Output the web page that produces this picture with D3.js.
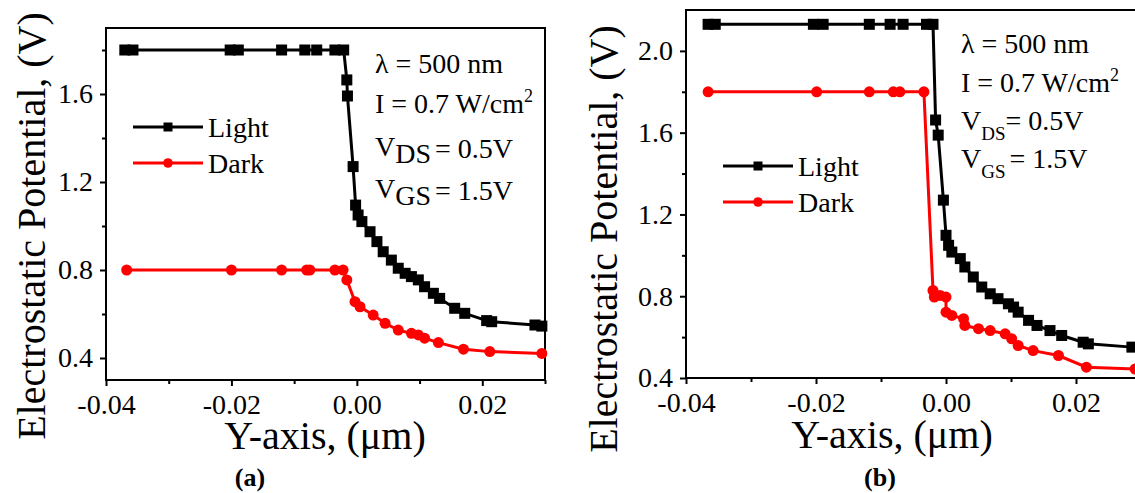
<!DOCTYPE html>
<html lang="en">
<head>
    <meta charset="UTF-8">
    <title>Electrostatic Potential vs Y-axis</title>
    <style>
        body { margin: 0; background: #fff; }
        svg text { font-family: "Liberation Serif", "Times New Roman", serif; fill: #000; }
        .axis path, .axis line { stroke: #000; stroke-width: 2; }
        .axis text { font-size: 28px; }
    </style>
</head>
<body>
    <svg id="chart" width="1135" height="493"></svg>
    <script src="https://d3js.org/d3.v7.min.js"></script>
    <script>
        // data: [Y-axis (um), potential (V)]
        var lightA = [[-0.0370, 1.80], [-0.0357, 1.80], [-0.0202, 1.80], [-0.0189, 1.80], [-0.0120, 1.80],
            [-0.0083, 1.80], [-0.0064, 1.80], [-0.0035, 1.80], [-0.0021, 1.80], [-0.0016, 1.664],
            [-0.0015, 1.591], [-0.0006, 1.270], [-0.0002, 1.095], [0.0002, 1.050], [0.0008, 1.020],
            [0.0021, 0.974], [0.0032, 0.929], [0.0042, 0.883], [0.0055, 0.845], [0.0066, 0.808],
            [0.0077, 0.785], [0.0087, 0.770], [0.0098, 0.755], [0.0108, 0.724], [0.0122, 0.694],
            [0.0132, 0.671], [0.0156, 0.626], [0.0172, 0.603], [0.0207, 0.570], [0.0215, 0.565],
            [0.0284, 0.550], [0.0295, 0.545]];
        var darkA = [[-0.0367, 0.80], [-0.0200, 0.80], [-0.0120, 0.80], [-0.0080, 0.80], [-0.0075, 0.80],
            [-0.0035, 0.80], [-0.0022, 0.80], [-0.0016, 0.755], [-0.0003, 0.656], [0.0005, 0.633],
            [0.0026, 0.595], [0.0045, 0.558], [0.0066, 0.527], [0.0087, 0.512], [0.0098, 0.505],
            [0.0108, 0.490], [0.0130, 0.470], [0.0170, 0.440], [0.0212, 0.429], [0.0295, 0.421]];
        var lightB = [[-0.0366, 2.13], [-0.0355, 2.13], [-0.0204, 2.13], [-0.0189, 2.13], [-0.0118, 2.13],
            [-0.0086, 2.13], [-0.0066, 2.13], [-0.0030, 2.13], [-0.0020, 2.13], [-0.0016, 1.662],
            [-0.0012, 1.588], [-0.0004, 1.270], [0.0000, 1.098], [0.0004, 1.049], [0.0009, 1.016],
            [0.0022, 0.984], [0.0029, 0.943], [0.0042, 0.894], [0.0055, 0.845], [0.0068, 0.812],
            [0.0080, 0.788], [0.0096, 0.763], [0.0104, 0.747], [0.0111, 0.722], [0.0127, 0.682],
            [0.0140, 0.657], [0.0160, 0.632], [0.0178, 0.608], [0.0211, 0.575], [0.0219, 0.567],
            [0.0286, 0.551]];
        var darkB = [[-0.0366, 1.80], [-0.0199, 1.80], [-0.0118, 1.80], [-0.0081, 1.80], [-0.0071, 1.80],
            [-0.0034, 1.80], [-0.0020, 0.828], [-0.0018, 0.796], [-0.0009, 0.804], [0.0000, 0.796],
            [0.0000, 0.722], [0.0009, 0.706], [0.0027, 0.690], [0.0029, 0.657], [0.0050, 0.641],
            [0.0068, 0.632], [0.0091, 0.616], [0.0101, 0.592], [0.0111, 0.559], [0.0134, 0.534],
            [0.0173, 0.510], [0.0216, 0.453], [0.0291, 0.444]];

        var xMajor = [-0.04, -0.02, 0.00, 0.02];
        var xMinor = [-0.03, -0.01, 0.01, 0.03];
        var yMajorA = [0.4, 0.8, 1.2, 1.6];
        var yMinorA = [0.6, 1.0, 1.4, 1.8];
        var yMajorB = [0.4, 0.8, 1.2, 1.6, 2.0];
        var yMinorB = [0.6, 1.0, 1.4, 1.8];
        var seriesNames = ["Light", "Dark"];
        var seriesColors = ["#000000", "#ff0000"];

        var svg = d3.select("#chart");
        var sq = 11, rad = 5.5;

        function drawPanel(p) {
            var x = d3.scaleLinear().domain([-0.04, 0.03]).range([p.left, p.right]);
            var y = d3.scaleLinear().domain(p.yDomain).range([p.bottom, p.top]);
            var g = svg.append("g");

            // frame
            g.append("rect")
                .attr("x", p.left).attr("y", p.top)
                .attr("width", p.right - p.left).attr("height", p.bottom - p.top)
                .attr("fill", "none").attr("stroke", "#000").attr("stroke-width", 2);

            g.append("g").attr("class", "axis")
                .attr("transform", "translate(0," + p.bottom + ")")
                .call(d3.axisBottom(x).tickValues(xMajor).tickSize(6).tickPadding(8)
                    .tickFormat(d => d.toFixed(2)))
                .call(a => a.select(".domain").remove());
            g.append("g").attr("class", "axis")
                .attr("transform", "translate(0," + p.bottom + ")")
                .call(d3.axisBottom(x).tickValues(xMinor).tickSize(4))
                .call(a => a.select(".domain").remove())
                .call(a => a.selectAll("text").remove());
            g.append("g").attr("class", "axis")
                .attr("transform", "translate(" + p.left + ",0)")
                .call(d3.axisLeft(y).tickValues(p.yMajor).tickSize(6).tickPadding(7)
                    .tickFormat(d => d.toFixed(1)))
                .call(a => a.select(".domain").remove());
            g.append("g").attr("class", "axis")
                .attr("transform", "translate(" + p.left + ",0)")
                .call(d3.axisLeft(y).tickValues(p.yMinor).tickSize(4))
                .call(a => a.select(".domain").remove())
                .call(a => a.selectAll("text").remove());

            var line = d3.line().x(d => x(d[0])).y(d => y(d[1]));
            [p.light, p.dark].forEach(function (data, i) {
                g.append("path").datum(data)
                    .attr("d", line).attr("fill", "none")
                    .attr("stroke", seriesColors[i]).attr("stroke-width", 3);
                if (i === 0) {
                    g.selectAll(null).data(data).enter().append("rect")
                        .attr("x", d => x(d[0]) - sq / 2).attr("y", d => y(d[1]) - sq / 2)
                        .attr("width", sq).attr("height", sq).attr("fill", seriesColors[i]);
                } else {
                    g.selectAll(null).data(data).enter().append("circle")
                        .attr("cx", d => x(d[0])).attr("cy", d => y(d[1]))
                        .attr("r", rad).attr("fill", seriesColors[i]);
                }
            });

            // legend
            seriesNames.forEach(function (name, i) {
                var ly = p.legY[i];
                g.append("line").attr("x1", p.legX).attr("x2", p.legX + 70)
                    .attr("y1", ly).attr("y2", ly)
                    .attr("stroke", seriesColors[i]).attr("stroke-width", 3);
                if (i === 0) {
                    g.append("rect").attr("x", p.legX + 35 - 4.5).attr("y", ly - 4.5)
                        .attr("width", 9).attr("height", 9).attr("fill", seriesColors[i]);
                } else {
                    g.append("circle").attr("cx", p.legX + 35).attr("cy", ly)
                        .attr("r", 4.8).attr("fill", seriesColors[i]);
                }
                g.append("text").attr("x", p.legX + 75).attr("y", ly + 9.5)
                    .style("font-size", "28px").text(name);
            });

            // annotations
            var ax = p.noteX, ny = p.noteY;
            g.append("text").attr("x", ax).attr("y", ny[0]).style("font-size", "28px").text("λ = 500 nm");
            var t2 = g.append("text").attr("x", ax).attr("y", ny[1]).style("font-size", "28px");
            t2.append("tspan").text("I = 0.7 W/cm");
            t2.append("tspan").attr("dy", -11).style("font-size", "18px").text("2");
            [["DS", "= 0.5V", p.gap[0]], ["GS", "= 1.5V", p.gap[1]]].forEach(function (v, k) {
                var t = g.append("text").attr("x", ax).attr("y", ny[k + 2]).style("font-size", "28px");
                t.append("tspan").attr("dy", p.vRaise).text("V");
                t.append("tspan").attr("dy", p.subDrop - p.vRaise).style("font-size", p.subSize + "px").text(v[0]);
                t.append("tspan").attr("dy", -p.subDrop).attr("dx", v[2]).text(v[1]);
            });

            // axis titles
            svg.append("text").attr("x", p.xTitleX).attr("y", p.xTitleY)
                .attr("text-anchor", "middle").style("font-size", "40px").text("Y-axis, (μm)");
            svg.append("text")
                .attr("transform", "translate(" + p.yTitleX + "," + p.yTitleY + ") rotate(-90)")
                .attr("text-anchor", "middle").style("font-size", "40px")
                .text("Electrostatic Potential, (V)");
            svg.append("text").attr("x", p.capX).attr("y", 486)
                .attr("text-anchor", "middle").style("font-size", "26px").style("font-weight", "bold")
                .text(p.caption);
        }

        drawPanel({
            left: 106, right: 545, top: 28, bottom: 380, yDomain: [0.3, 1.9],
            yMajor: yMajorA, yMinor: yMinorA, light: lightA, dark: darkA,
            legX: 133, legY: [127, 163],
            noteX: 375, noteY: [73, 113, 158, 200], vRaise: -2, subDrop: 5, subSize: 28, gap: [4, 4],
            xTitleX: 325, xTitleY: 449, yTitleX: 45, yTitleY: 226,
            capX: 250, caption: "(a)"
        });
        drawPanel({
            left: 686, right: 1141, top: 10, bottom: 378, yDomain: [0.4, 2.2],
            yMajor: yMajorB, yMinor: yMinorB, light: lightB, dark: darkB,
            legX: 723, legY: [166, 202],
            noteX: 961, noteY: [53, 92, 130, 168], vRaise: 0, subDrop: 10, subSize: 19, gap: [0, 4],
            xTitleX: 892, xTitleY: 448, yTitleX: 617, yTitleY: 239,
            capX: 880, caption: "(b)"
        });
    </script>
</body>
</html>
